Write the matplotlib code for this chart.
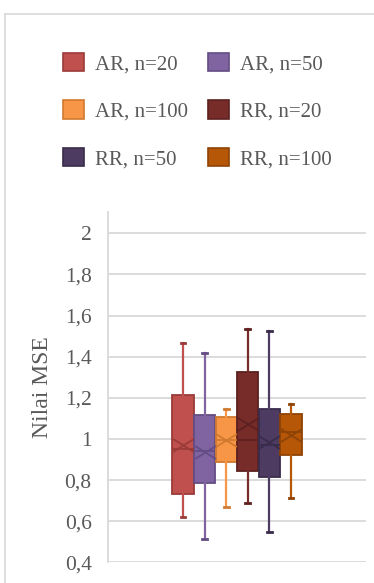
import matplotlib
matplotlib.use('Agg')
import matplotlib.pyplot as plt
from matplotlib.patches import Patch
from matplotlib.lines import Line2D
from matplotlib.path import Path

# Data (nilai MSE)
labels = ['AR, n=20', 'AR, n=50', 'AR, n=100', 'RR, n=20', 'RR, n=50', 'RR, n=100']
whisker_low = [0.622, 0.512, 0.672, 0.690, 0.548, 0.713]
q1 = [0.732, 0.786, 0.890, 0.844, 0.816, 0.921]
median = [0.953, 0.940, 0.995, 0.997, 0.972, 1.035]
q3 = [1.213, 1.115, 1.106, 1.325, 1.145, 1.123]
whisker_high = [1.465, 1.418, 1.145, 1.536, 1.527, 1.170]
mean = [0.973, 0.937, 0.997, 1.071, 0.985, 1.021]

y_ticks = [0.4, 0.6, 0.8, 1.0, 1.2, 1.4, 1.6, 1.8, 2.0]
y_tick_labels = ['0,4', '0,6', '0,8', '1', '1,2', '1,4', '1,6', '1,8', '2']

face_colors = ['#C0504D', '#8064A2', '#F79646', '#772C2A', '#4D3B62', '#B65708']
edge_colors = ['#9A3B39', '#644C84', '#D07A30', '#5C201F', '#3A2C4B', '#8E4306']

text_color = '#595959'
grid_color = '#D9D9D9'

plt.rcParams['font.family'] = ['Liberation Serif', 'DejaVu Serif']

fig = plt.figure(figsize=(3.74, 5.83), dpi=100)
ax = fig.add_axes([0.2896, 0.0352, 0.6882, 0.6015])

box_w = 0.084
positions = [0.5 + (i - 2.5) * box_w for i in range(len(labels))]

x_marker = Path([(-1, -0.62), (1, 0.62), (-1, 0.62), (1, -0.62)],
                [Path.MOVETO, Path.LINETO, Path.MOVETO, Path.LINETO])

for i in range(len(labels)):
    stats = [{
        'whislo': whisker_low[i], 'q1': q1[i], 'med': median[i],
        'q3': q3[i], 'whishi': whisker_high[i], 'mean': mean[i], 'fliers': []
    }]
    ax.bxp(stats, positions=[positions[i]], widths=box_w * 0.98,
           patch_artist=True, showmeans=False, showfliers=False,
           boxprops=dict(facecolor=face_colors[i], edgecolor=edge_colors[i], linewidth=1.3),
           medianprops=dict(color=edge_colors[i], linewidth=1.3),
           whiskerprops=dict(color=face_colors[i], linewidth=1.6),
           capprops=dict(color=edge_colors[i], linewidth=2.0),
           capwidths=box_w * 0.22, zorder=3)
    ax.plot([positions[i]], [mean[i]], marker=x_marker, markersize=15,
            markeredgecolor=edge_colors[i], markeredgewidth=1.3,
            linestyle='none', zorder=4)

ax.set_xlim(0, 1)
ax.set_ylim(0.4, 2.104)
ax.set_yticks(y_ticks)
ax.set_yticklabels(y_tick_labels)
ax.set_xticks([])
ax.tick_params(axis='y', length=0, pad=12, labelsize=15.5, labelcolor=text_color)
ax.yaxis.grid(True, color=grid_color, linewidth=1.3)
ax.set_axisbelow(True)
for side in ['top', 'right', 'bottom']:
    ax.spines[side].set_visible(False)
ax.spines['left'].set_color(grid_color)
ax.spines['left'].set_linewidth(1.3)

ax.set_ylabel('Nilai MSE', fontsize=17, color=text_color, labelpad=8)

# legenda diisi per baris (2 kolom)
handles = [Patch(facecolor=face_colors[i], edgecolor=edge_colors[i], linewidth=1.2)
           for i in range(len(labels))]
order = [0, 2, 4, 1, 3, 5]
fig.legend([handles[i] for i in order], [labels[i] for i in order],
           ncol=2, loc='upper left',
           bbox_to_anchor=(0.1413, 0.9276), frameon=False, fontsize=15,
           handlelength=1.0, handleheight=1.0, handletextpad=0.5,
           columnspacing=1.0, labelspacing=1.25, borderpad=0,
           labelcolor=text_color)

# Border of chart area
fig.add_artist(Line2D([5 / 374, 1], [1 - 14 / 583, 1 - 14 / 583],
                      color=grid_color, linewidth=1.2, transform=fig.transFigure))
fig.add_artist(Line2D([5 / 374, 5 / 374], [0, 1 - 14 / 583],
                      color=grid_color, linewidth=1.2, transform=fig.transFigure))

plt.savefig('out.png', dpi=100)
plt.close()
